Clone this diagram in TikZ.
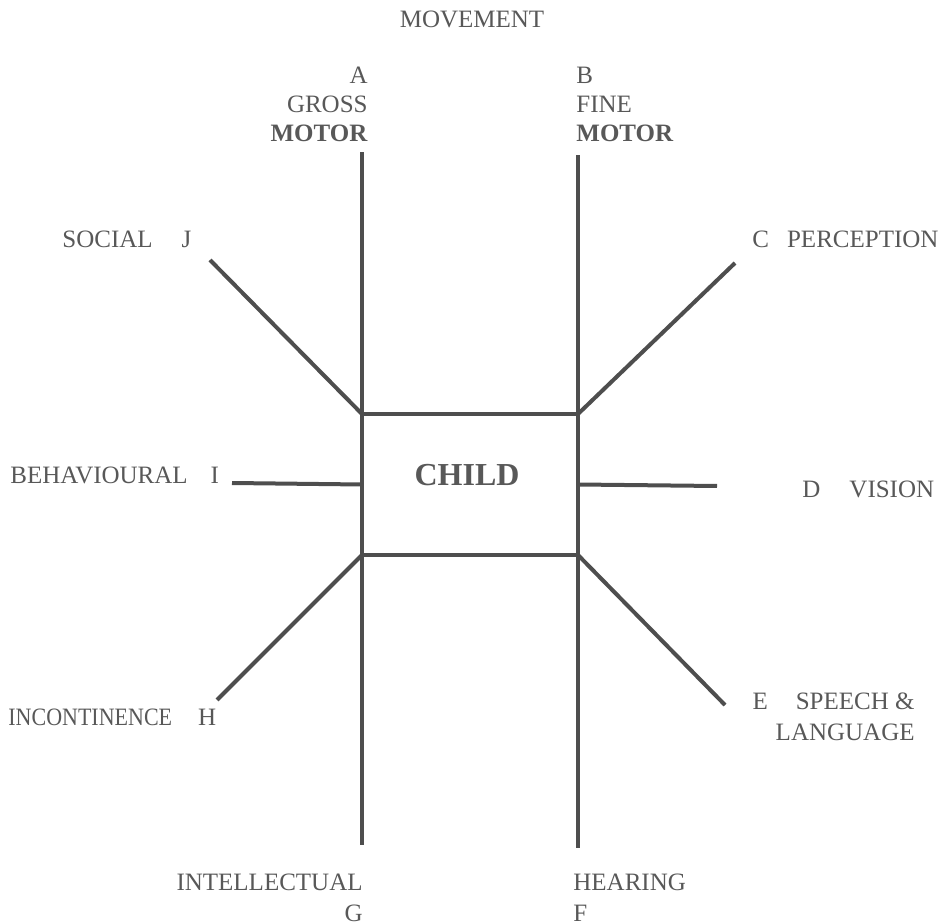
\documentclass[tikz,border=0pt]{standalone}
\usepackage{fontspec}
\setmainfont{Liberation Serif}
\usetikzlibrary{positioning,calc}
\definecolor{cLine}{RGB}{78,78,78}
\definecolor{cText}{RGB}{88,88,88}
\tikzset{
  spoke/.style={draw=cLine, line width=2pt},
  area/.style={font=\fontsize{12.5}{14.5}\selectfont, text=cText, inner sep=0pt},
  hub/.style={draw=cLine, line width=2pt, outer sep=0pt,
              minimum width=108pt, minimum height=70.5pt},
  hubtxt/.style={font=\fontsize{16}{19}\selectfont\bfseries, text=cText, inner sep=0pt},
}

\begin{document}
\begin{tikzpicture}[x=0.5pt,y=-0.5pt]
  \useasboundingbox (0,0) rectangle (952,924);

  % centre box
  \node[hub] (child) at (470,484.5) {};
  \node[hubtxt] (childlbl) at (467,475) {CHILD};

  % free ends of the spokes
  \coordinate (a) at (364,152);
  \coordinate (b) at (578,155);
  \coordinate (c) at (735,263);
  \coordinate (d) at (717,486);
  \coordinate (e) at (725,705);
  \coordinate (f) at (576,848);
  \coordinate (g) at (362,845);
  \coordinate (h) at (217,700);
  \coordinate (i) at (232,483);
  \coordinate (j) at (210,260);

  \draw[spoke] (child.north west) -- (child.north west |- a);
  \draw[spoke] (child.north east) -- (child.north east |- b);
  \draw[spoke] (child.north east) -- (c);
  \draw[spoke] (child.east) -- (d);
  \draw[spoke] (child.south east) -- (e);
  \draw[spoke] (child.south east) -- (child.south east |- f);
  \draw[spoke] (child.south west) -- (child.south west |- g);
  \draw[spoke] (child.south west) -- (h);
  \draw[spoke] (child.west) -- (i);
  \draw[spoke] (child.north west) -- (j);

  % labels (base = last line)
  \node[area, anchor=base] (move) at (472,28) {MOVEMENT};
  \node[area, align=right, anchor=base east] (gross) at (368,142) {A\\GROSS\\\textbf{MOTOR}};
  \node[area, align=left, anchor=base west] (fine) at (576,142) {B\\FINE\\\textbf{MOTOR}};
  \node[area, anchor=base west] (social) at (62,248) {SOCIAL\hspace{14.5pt}J};
  \node[area, anchor=base west] (perc) at (752,248) {C\hspace{9pt}PERCEPTION};
  \node[area, anchor=base west] (behav) at (10,483) {BEHAVIOURAL\hspace{11.5pt}I};
  \node[area, anchor=base west] (vision) at (802,497) {D\hspace{14.5pt}VISION};
  \node[area, anchor=base west] (incont) at (8,725) {\scalebox{0.88}[1]{INCONTINENCE}\hspace{13pt}H};
  \node[area, align=right, anchor=base east] (speech) at (915,740) {E\hspace{14pt}SPEECH \&\\[1pt]LANGUAGE};
  \node[area, align=right, anchor=base east] (intel) at (363,921) {INTELLECTUAL\\[1pt]G};
  \node[area, align=left, anchor=base west] (hear) at (573,921) {HEARING\\[1pt]F};
\end{tikzpicture}
\end{document}
